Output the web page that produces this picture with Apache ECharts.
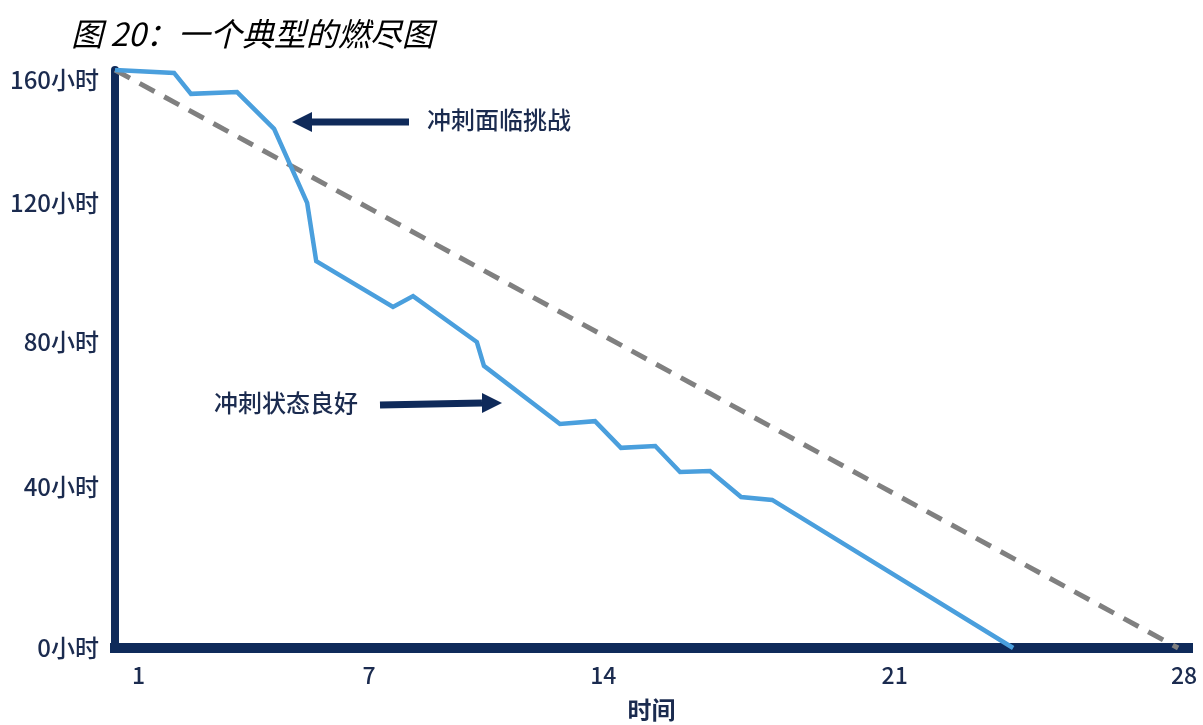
<!DOCTYPE html>
<html>
<head>
<meta charset="utf-8">
<script src="https://cdn.jsdelivr.net/npm/echarts@6.0.0/dist/echarts.min.js"></script>
<style>
  html, body { margin: 0; background: #fff; }
  #chart { width: 1203px; height: 725px; }
</style>
</head>
<body>
<div id="chart"></div>
<script>
// remaining hours over the sprint (day, hours)
const actualDays = [1, 2.5, 2.93, 4.1, 5.04, 5.88, 6.11, 8.06, 8.57, 10.19, 10.37, 12.3, 13.19, 13.85, 14.72, 15.35, 16.11, 16.9, 17.69, 23.81];
const actualHours = [160, 159.2, 153.4, 153.9, 143.7, 123.2, 107.1, 94.4, 97.4, 84.7, 78.1, 62.0, 62.8, 55.4, 55.9, 48.7, 49.0, 41.8, 41.0, 0];
const idealDays = [1, 28];
const idealHours = [160, 0];

// tick labels sit where the original slide put them, not on exact values
const xTickPos = [1.6, 7.45, 13.4, 20.8, 28.15];
const xTickLabels = ['1', '7', '14', '21', '28'];
const yTickPos = [157.2, 123.2, 84.7, 44.6, 0];
const yTickLabels = ['160小时', '120小时', '80小时', '40小时', '0小时'];

const NAVY = '#0f2a5a';
const TEXT = '#1b2b4f';
const FONT = '"Noto Sans CJK SC", "Noto Sans", sans-serif';

const chart = echarts.init(document.getElementById('chart'));

const zip = (xs, ys) => xs.map((x, i) => [x, ys[i]]);
const pick = (pos, labels) => v => {
  let best = 0;
  pos.forEach((p, i) => { if (Math.abs(p - v) < Math.abs(pos[best] - v)) best = i; });
  return labels[best];
};

// arrow = shaft + triangle head
function arrow(x1, y1, x2, y2, dir) {
  const head = 20, half = 10;
  const tipX = dir > 0 ? x2 + head : x1 - head;
  const baseX = dir > 0 ? x2 : x1;
  const yTip = dir > 0 ? y2 : y1;
  return [
    { type: 'line', shape: { x1, y1, x2, y2 }, style: { stroke: NAVY, lineWidth: 7 } },
    { type: 'polygon', shape: { points: [[baseX, yTip - half], [tipX, yTip], [baseX, yTip + half]] }, style: { fill: NAVY } }
  ];
}

chart.setOption({
  animation: false,
  backgroundColor: '#fff',
  title: {
    text: '图 20：一个典型的燃尽图',
    left: 66,
    top: 13,
    textStyle: { fontFamily: FONT, fontSize: 32, fontStyle: 'italic', fontWeight: 'normal', color: '#000' }
  },
  grid: { left: 115, right: 15, top: 70, bottom: 77, outerBoundsMode: 'none' },
  xAxis: {
    type: 'value',
    min: 1,
    max: 28.25,
    name: '时间',
    nameLocation: 'middle',
    nameGap: 50,
    nameTextStyle: { fontFamily: FONT, fontSize: 24, fontWeight: 'bold', color: TEXT },
    axisLine: { lineStyle: { color: NAVY, width: 10, cap: 'square' } },
    axisTick: { show: false },
    splitLine: { show: false },
    axisLabel: {
      customValues: xTickPos,
      formatter: pick(xTickPos, xTickLabels),
      margin: 16,
      fontFamily: FONT,
      fontSize: 23,
      fontWeight: 500,
      color: TEXT
    }
  },
  yAxis: {
    type: 'value',
    min: 0,
    max: 160,
    axisLine: { show: true, lineStyle: { color: NAVY, width: 8 } },
    axisTick: { show: false },
    splitLine: { show: false },
    axisLabel: {
      customValues: yTickPos,
      formatter: pick(yTickPos, yTickLabels),
      margin: 16,
      fontFamily: FONT,
      fontSize: 24,
      fontWeight: 500,
      color: TEXT
    }
  },
  series: [
    {
      name: '理想',
      type: 'line',
      data: zip(idealDays, idealHours),
      showSymbol: false,
      lineStyle: { color: '#808080', width: 5, type: [17, 11] },
      z: 3
    },
    {
      name: '实际',
      type: 'line',
      data: zip(actualDays, actualHours),
      showSymbol: false,
      lineStyle: { color: '#4a9fdd', width: 4.5, join: 'miter' },
      z: 4
    }
  ],
  graphic: [
    ...arrow(312, 122, 409, 122, -1),
    ...arrow(380, 405, 482, 403, 1),
    {
      type: 'text', left: 427, top: 108,
      style: { text: '冲刺面临挑战', font: '500 24px ' + FONT, fill: TEXT }
    },
    {
      type: 'text', left: 214, top: 391,
      style: { text: '冲刺状态良好', font: '500 24px ' + FONT, fill: TEXT }
    }
  ]
});
</script>
</body>
</html>
